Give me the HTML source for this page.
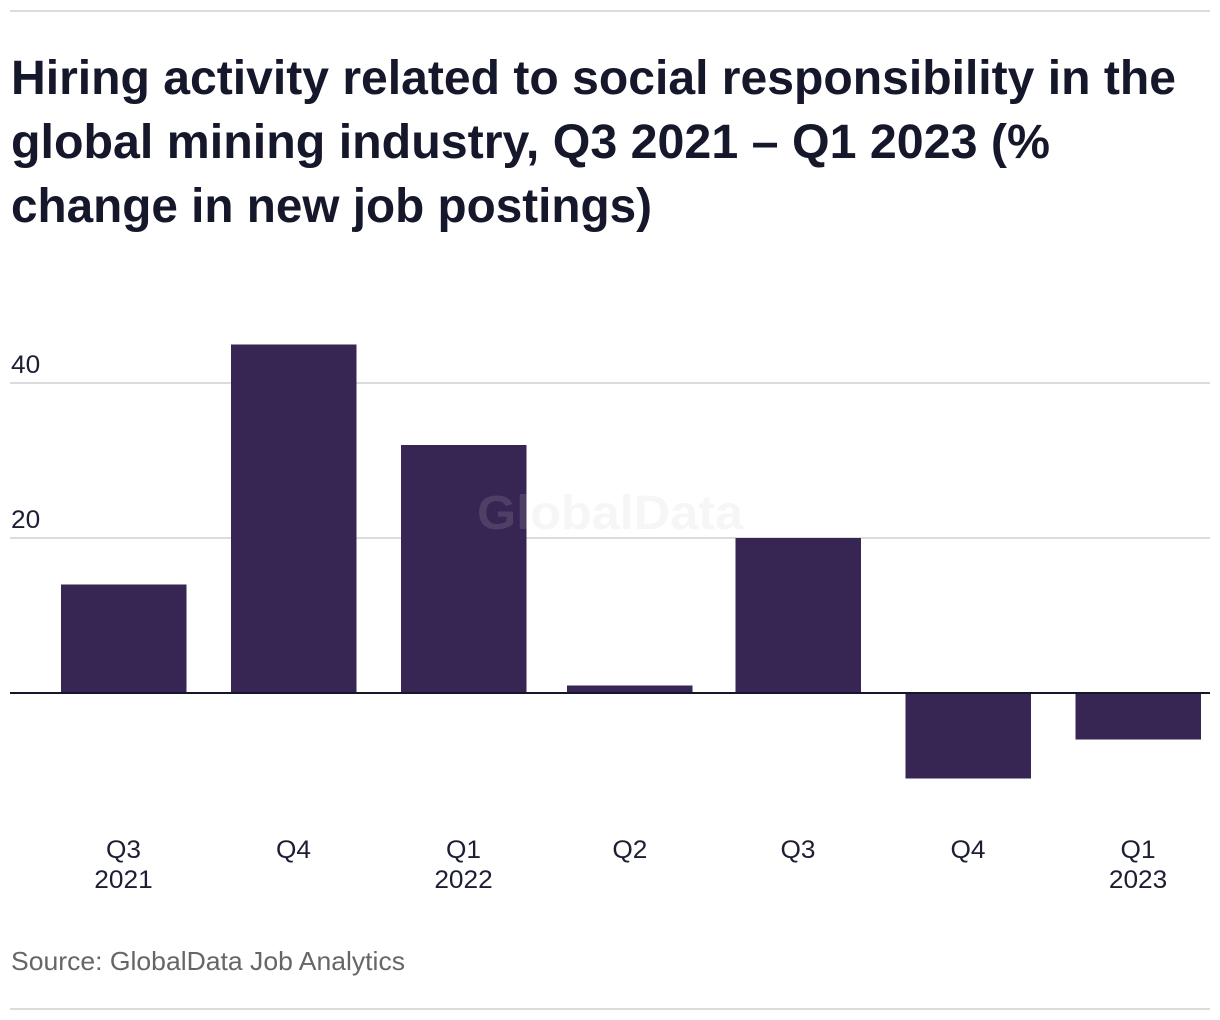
<!DOCTYPE html>
<html lang="en">
<head>
<meta charset="utf-8">
<title>Hiring activity related to social responsibility in the global mining industry</title>
<style>
html,body{margin:0;padding:0;background:#fff;width:1220px;height:1020px;overflow:hidden}
svg{display:block}
text{font-family:"Liberation Sans",Arial,sans-serif}
.title{font-size:48px;font-weight:700;fill:#15172b}
.tick{font-size:25px;fill:#1c1e33}
.source{font-size:26px;fill:#666}
</style>
</head>
<body>
<svg id="chart" width="1220" height="1020" viewBox="0 0 1220 1020" xmlns="http://www.w3.org/2000/svg">
  <rect width="1220" height="1020" fill="#fff"/>
  <rect x="10" y="10" width="1200" height="2" fill="#dcdcdc"/>
  <g>
    <text class="title" x="11" y="94" textLength="1165" lengthAdjust="spacingAndGlyphs">Hiring activity related to social responsibility in the</text>
    <text class="title" x="11" y="158" textLength="1039" lengthAdjust="spacingAndGlyphs">global mining industry, Q3 2021 – Q1 2023 (%</text>
    <text class="title" x="11" y="222" textLength="641" lengthAdjust="spacingAndGlyphs">change in new job postings)</text>
  </g>
  <g id="grid"></g>
  <g id="yticks"></g>
  <g id="bars" shape-rendering="crispEdges"></g>
  <rect x="10" y="692" width="1200" height="2" fill="#15172b"/>
  <g id="xticks"></g>
  <text x="477" y="529" font-size="48" font-weight="700" fill="#c8c8c8" fill-opacity="0.16" textLength="266" lengthAdjust="spacingAndGlyphs">GlobalData</text>
  <text class="source" x="11" y="970" textLength="394" lengthAdjust="spacingAndGlyphs">Source: GlobalData Job Analytics</text>
  <rect x="10" y="1008" width="1200" height="2" fill="#dcdcdc"/>
</svg>
<script>
const quarterStarts = ['2021-07-01','2021-10-01','2022-01-01','2022-04-01','2022-07-01','2022-10-01','2023-01-01'];
const quarterLabels = ['Q3','Q4','Q1','Q2','Q3','Q4','Q1'];
const yearLabels = ['2021','','2022','','','','2023'];
const changeValues = [14,45,32,1,20,-11,-6];
const yTickValues = [20,40];

const NS = 'http://www.w3.org/2000/svg';
const firstDay = Date.parse(quarterStarts[0]);
function xScale(dateString) {
  const days = (Date.parse(dateString) - firstDay) / 86400000;
  return 123.5 + days * 1.848;
}
function yScale(value) {
  return 693 - value * 7.75;
}
const BAR_WIDTH = 125.5;

function widen(t) {
  t.setAttribute('textLength', (t.getComputedTextLength() * 1.05).toFixed(1));
  t.setAttribute('lengthAdjust', 'spacingAndGlyphs');
}

const grid = document.getElementById('grid');
const yticks = document.getElementById('yticks');
yTickValues.forEach(function (v) {
  const line = document.createElementNS(NS, 'rect');
  
  
  line.setAttribute('x', 10);
  line.setAttribute('y', yScale(v) - 1);
  line.setAttribute('width', 1200);
  line.setAttribute('height', 2);
  line.setAttribute('fill', '#dcdcdc');
  grid.appendChild(line);

  const label = document.createElementNS(NS, 'text');
  
  
  label.setAttribute('class', 'tick');
  label.setAttribute('x', 11);
  label.setAttribute('y', yScale(v) - 10);
  label.textContent = String(v);
  yticks.appendChild(label);
  widen(label);
});

const bars = document.getElementById('bars');
changeValues.forEach(function (v, i) {
  const bar = document.createElementNS(NS, 'rect');
  
  
  const cx = xScale(quarterStarts[i]);
  const top = v >= 0 ? yScale(v) : yScale(0);
  const bottom = v >= 0 ? yScale(0) : yScale(v);
  bar.setAttribute('x', cx - BAR_WIDTH / 2);
  bar.setAttribute('y', top);
  bar.setAttribute('width', BAR_WIDTH);
  bar.setAttribute('height', bottom - top);
  bar.setAttribute('fill', '#372554');
  bars.appendChild(bar);
});

const xticks = document.getElementById('xticks');
quarterLabels.forEach(function (q, i) {
  const cx = xScale(quarterStarts[i]);
  const label = document.createElementNS(NS, 'text');
  
  
  label.setAttribute('class', 'tick');
  label.setAttribute('x', cx);
  label.setAttribute('y', 858);
  label.setAttribute('text-anchor', 'middle');
  label.textContent = q;
  xticks.appendChild(label);
  widen(label);
  if (yearLabels[i]) {
    const year = document.createElementNS(NS, 'text');
    
    
    year.setAttribute('class', 'tick');
    year.setAttribute('x', cx);
    year.setAttribute('y', 888);
    year.setAttribute('text-anchor', 'middle');
    year.textContent = yearLabels[i];
    xticks.appendChild(year);
    widen(year);
  }
});
</script>
</body>
</html>
